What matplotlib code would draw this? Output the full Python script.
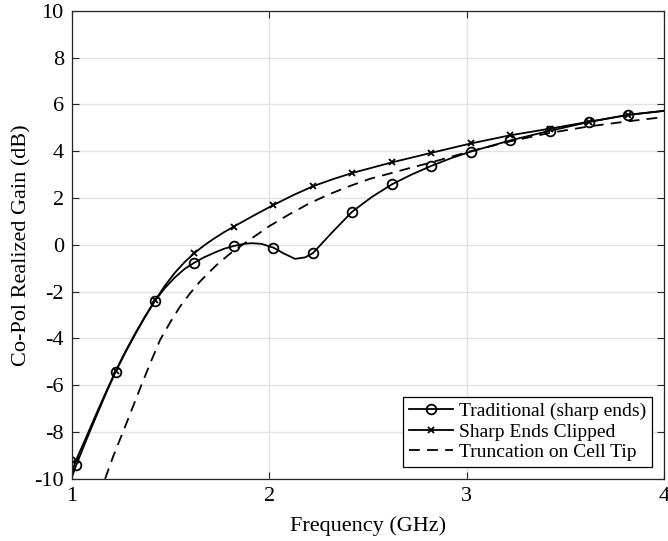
import numpy as np
import matplotlib
matplotlib.use("Agg")
import matplotlib.pyplot as plt

plt.rcParams["font.family"] = ["Liberation Serif", "DejaVu Serif"]
plt.rcParams["axes.unicode_minus"] = False

# =========================
# data
# =========================
marker_freq = [1.02, 1.22, 1.42, 1.62, 1.82, 2.02, 2.22, 2.42, 2.62,
               2.82, 3.02, 3.22, 3.42, 3.62, 3.82]

# Traditional (sharp ends)
freq_trad = [1.00, 1.02, 1.07, 1.12, 1.17, 1.22, 1.27, 1.32, 1.37, 1.42,
             1.47, 1.52, 1.57, 1.62, 1.67, 1.72, 1.77, 1.82, 1.87, 1.91,
             1.96, 2.02, 2.07, 2.13, 2.18, 2.22, 2.32, 2.42, 2.52, 2.62,
             2.72, 2.82, 2.92, 3.02, 3.22, 3.42, 3.62, 3.82, 4.00]
gain_trad = [-9.90, -9.43, -8.38, -7.37, -6.38, -5.43, -4.60, -3.82, -3.08, -2.39,
             -1.85, -1.40, -1.03, -0.76, -0.53, -0.34, -0.17, -0.05, 0.04, 0.07,
             0.04, -0.12, -0.36, -0.60, -0.54, -0.36, 0.55, 1.42, 2.05, 2.58,
             3.00, 3.37, 3.70, 3.98, 4.46, 4.87, 5.25, 5.56, 5.72]

# Sharp Ends Clipped
freq_clip = [1.00, 1.02, 1.07, 1.12, 1.17, 1.22, 1.27, 1.32, 1.37, 1.42,
             1.47, 1.52, 1.57, 1.62, 1.67, 1.72, 1.77, 1.82, 1.92, 2.02,
             2.12, 2.22, 2.32, 2.42, 2.62, 2.82, 3.02, 3.22, 3.42, 3.62,
             3.82, 4.00]
gain_clip = [-9.70, -9.20, -8.25, -7.27, -6.32, -5.40, -4.56, -3.78, -3.05, -2.38,
             -1.75, -1.20, -0.74, -0.35, -0.02, 0.27, 0.54, 0.78, 1.25, 1.70,
             2.12, 2.50, 2.80, 3.07, 3.52, 3.93, 4.33, 4.68, 4.96, 5.26,
             5.55, 5.73]

# Truncation on Cell Tip
freq_trunc = [1.167, 1.21, 1.26, 1.31, 1.353, 1.40, 1.446, 1.50, 1.547, 1.60,
              1.65, 1.73, 1.80, 1.88, 2.00, 2.10, 2.20, 2.30, 2.41, 2.51,
              2.62, 2.72, 2.82, 3.02, 3.22, 3.42, 3.62, 3.82, 4.00]
gain_trunc = [-10.0, -9.00, -7.95, -6.88, -5.95, -4.98, -4.06, -3.27, -2.64, -2.05,
              -1.55, -0.88, -0.38, 0.10, 0.80, 1.30, 1.76, 2.15, 2.52, 2.82,
              3.07, 3.30, 3.52, 4.00, 4.42, 4.78, 5.06, 5.28, 5.46]

# =========================
# plot
# =========================
fig = plt.figure(figsize=(6.68, 5.41), dpi=100)
ax = fig.add_axes([0.108, 0.115, 0.886, 0.865])

idx_trad = [freq_trad.index(f) for f in marker_freq]
idx_clip = [freq_clip.index(f) for f in marker_freq]

ax.plot(freq_trad, gain_trad, "-o", color="black", linewidth=1.3,
        markersize=7, markerfacecolor="none", markeredgewidth=1.3,
        markevery=idx_trad, label="Traditional (sharp ends)")
ax.plot(freq_clip, gain_clip, "-x", color="black", linewidth=1.3,
        markersize=5, markeredgewidth=1.3,
        markevery=idx_clip, label="Sharp Ends Clipped")
ax.plot(freq_trunc, gain_trunc, "--", color="black", linewidth=1.3,
        dashes=(6, 4), label="Truncation on Cell Tip")

ax.set_xlim(1, 4)
ax.set_ylim(-10, 10)
ax.set_xticks([1, 2, 3, 4])
ax.set_yticks(np.arange(-10, 11, 2))

ax.set_xlabel("Frequency (GHz)", fontsize=16, labelpad=7)
ax.set_ylabel("Co-Pol Realized Gain (dB)", fontsize=16, labelpad=2)

ax.grid(True, color="#e3e3e3", linewidth=1.0)
ax.set_axisbelow(True)
ax.tick_params(direction="in", top=True, right=True, labelsize=16,
               length=5, width=0.8, color="#262626", pad=6)
for sp in ax.spines.values():
    sp.set_color("#262626")
    sp.set_linewidth(0.9)

leg = ax.legend(loc="lower right", fontsize=14, numpoints=1,
                handlelength=2.3, fancybox=False, framealpha=1,
                edgecolor="black", borderaxespad=0.6, labelspacing=0.15,
                handletextpad=0.3, borderpad=0.3)
leg.get_frame().set_linewidth(0.9)

fig.savefig("out.png", dpi=100, facecolor="white")
